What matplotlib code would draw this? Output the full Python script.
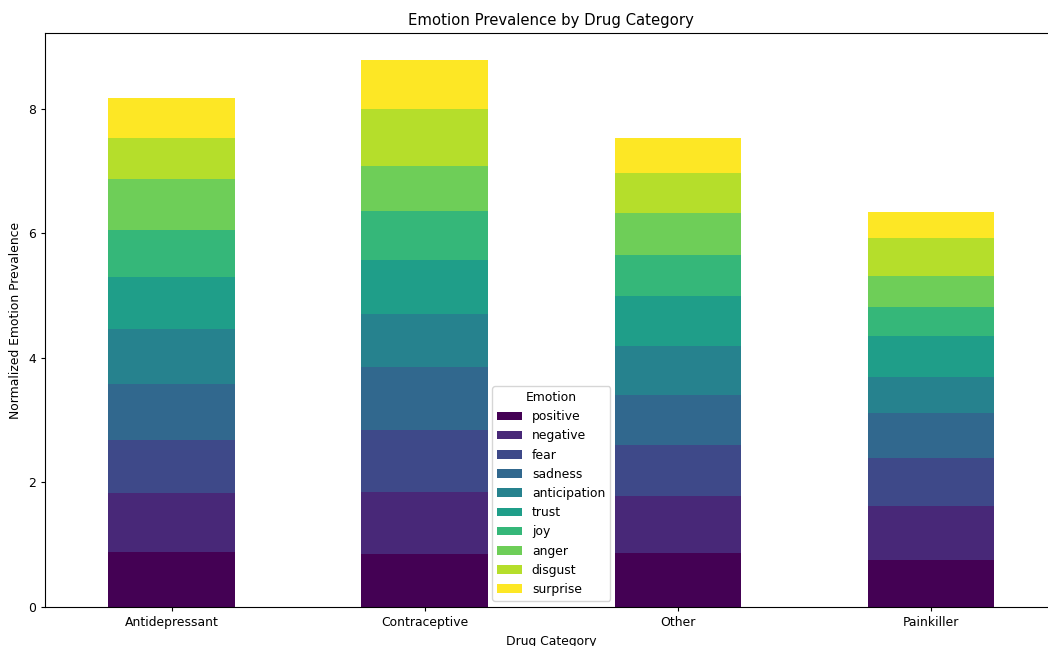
import numpy as np
import matplotlib
matplotlib.use("Agg")
import matplotlib.pyplot as plt

categories = ["Antidepressant", "Contraceptive", "Other", "Painkiller"]
emotions = ["positive", "negative", "fear", "sadness", "anticipation",
            "trust", "joy", "anger", "disgust", "surprise"]

positive = [0.89, 0.85, 0.87, 0.75]
negative = [0.94, 0.99, 0.91, 0.87]
fear = [0.86, 1.01, 0.82, 0.77]
sadness = [0.89, 1.01, 0.80, 0.72]
anticipation = [0.89, 0.85, 0.79, 0.58]
trust = [0.83, 0.86, 0.80, 0.66]
joy = [0.75, 0.79, 0.66, 0.47]
anger = [0.82, 0.73, 0.67, 0.50]
disgust = [0.66, 0.91, 0.65, 0.60]
surprise = [0.64, 0.78, 0.57, 0.42]

series = [positive, negative, fear, sadness, anticipation,
          trust, joy, anger, disgust, surprise]

plt.rcParams["font.size"] = 8.9
plt.rcParams["axes.titlesize"] = 10.7
plt.rcParams["xtick.major.size"] = 3.1
plt.rcParams["ytick.major.size"] = 3.1
plt.rcParams["axes.linewidth"] = 0.8

W, H = 1048, 646
fig = plt.figure(figsize=(W / 100, H / 100), dpi=100)
ax = fig.add_axes([45 / W, (H - 607) / H, (1057.5 - 45) / W, (607 - 33) / H])

colors = plt.get_cmap("viridis")(np.linspace(0, 1, len(emotions)))
x = np.arange(len(categories))
bottom = np.zeros(len(categories))
for name, vals, c in zip(emotions, series, colors):
    vals = np.array(vals)
    ax.bar(x, vals, width=0.5, bottom=bottom, color=c, label=name)
    bottom += vals

ax.set_xlim(-0.5, len(categories) - 0.5)
ax.set_ylim(0, bottom.max() * 1.05)
ax.set_xticks(x)
ax.set_xticklabels(categories)
ax.set_yticks([0, 2, 4, 6, 8])
ax.set_title("Emotion Prevalence by Drug Category")
ax.set_xlabel("Drug Category")
ax.set_ylabel("Normalized Emotion Prevalence")
ax.legend(title="Emotion", loc="lower center")

fig.savefig("out.png", dpi=100)
